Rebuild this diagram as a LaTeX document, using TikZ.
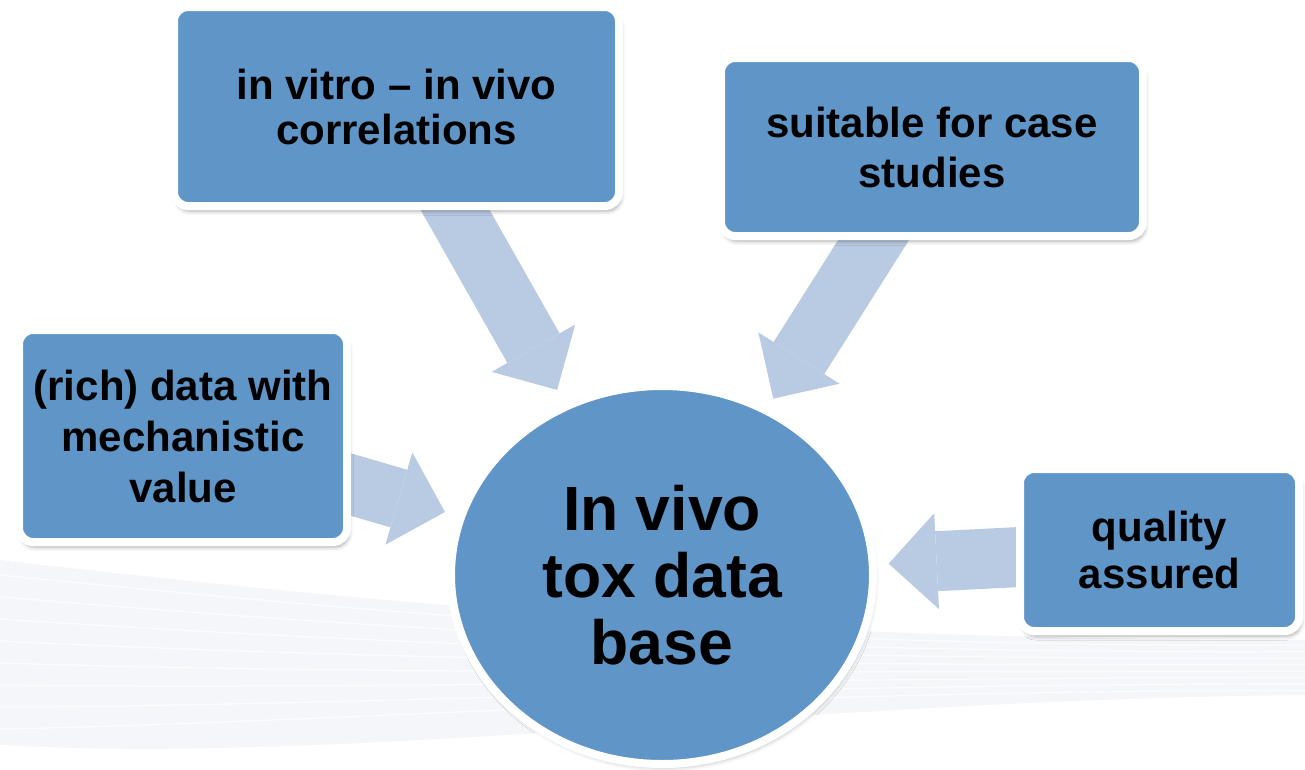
\documentclass[tikz,border=0pt]{standalone}
\usepackage{fontspec}
\setmainfont{Liberation Sans}
\usetikzlibrary{arrows.meta,shapes.geometric,shadows.blur}
\definecolor{boxblue}{HTML}{6095C8}
\definecolor{arrowblue}{HTML}{B9CBE3}
\definecolor{swooshcol}{HTML}{E3E9F0}
\pgfdeclarelayer{swooshlayer}
\pgfdeclarelayer{arrowlayer}
\pgfsetlayers{swooshlayer,arrowlayer,main}
\tikzset{
  box/.style={draw=white, line width=8pt, fill=boxblue, rounded corners=14pt,
    align=center, inner sep=0pt, text=black,
    blur shadow={shadow xshift=2pt, shadow yshift=-5pt, shadow blur radius=4pt, shadow opacity=35}},
  boxfont/.style={font=\fontsize{42}{#1}\selectfont\bfseries},
  bigarrow/.style={draw=arrowblue, line width=60pt, shorten <=-30pt,
    -{Triangle[length=48pt 0 0, width=96pt 0 0, line width=0pt 0 0]}},
  streak/.style={white, line width=1.2pt, opacity=0.7}
}
\begin{document}
\begin{tikzpicture}[x=1pt, y=-1pt]
\useasboundingbox (0,0) rectangle (1305,769);

% nodes
\node[box, boxfont=45, minimum width=445pt, minimum height=199pt] (ivv) at (396.5,106.5) {in vitro – in vivo\\correlations};
\node[box, boxfont=50, minimum width=422pt, minimum height=178pt] (suit) at (932,147) {suitable for case\\studies};
\node[box, boxfont=51, minimum width=328pt, minimum height=212pt] (rich) at (183,436) {(rich) data with\\mechanistic\\value};
\node[box, boxfont=47, minimum width=279pt, minimum height=162pt] (qual) at (1159.5,550) {quality\\assured};
\node[ellipse, draw=white, line width=8pt, fill=boxblue, minimum width=422pt, minimum height=378pt,
  inner sep=0pt, align=center, font=\fontsize{62.5}{67}\selectfont\bfseries,
  blur shadow={shadow xshift=2pt, shadow yshift=-4pt, shadow blur radius=4pt, shadow opacity=25}] (db) at (662,575) {In vivo\\tox data\\base};

% arrows
\begin{pgfonlayer}{arrowlayer}
\draw[bigarrow, shorten >=15pt] (ivv) -- (db);
\draw[bigarrow, shorten >=10pt] (suit) -- (db);
\draw[bigarrow, shorten >=13pt] (rich) -- (db);
\draw[bigarrow, shorten >=12pt] (qual) -- (db);
\end{pgfonlayer}

% background swoosh
\begin{pgfonlayer}{swooshlayer}
\fill[swooshcol, opacity=0.4] (0,560) .. controls (350,600) and (750,640) .. (1305,640)
  -- (1305,695) .. controls (800,700) and (350,765) .. (0,745) -- cycle;
\foreach \i in {0,...,7}
  \draw[streak] (0,575+22*\i) .. controls (350,610+16*\i) and (750,648+6*\i) .. (1305,645+6.5*\i);
\end{pgfonlayer}
\end{tikzpicture}
\end{document}
